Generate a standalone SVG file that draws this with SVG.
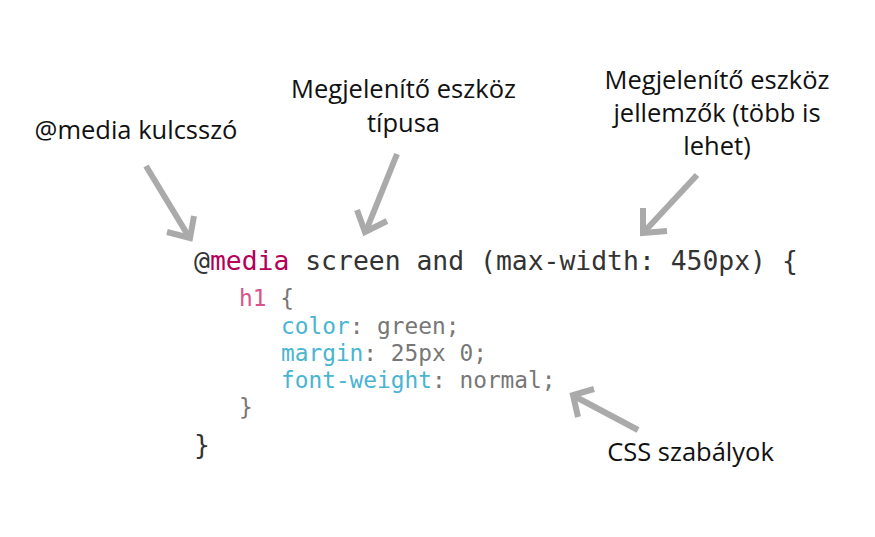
<svg xmlns="http://www.w3.org/2000/svg" width="875" height="537" viewBox="0 0 875 537">
<style>
.lbl{font-family:"Open Sans","Noto Sans",sans-serif;font-size:25.5px;fill:#111;text-anchor:middle}
.code{font-family:"DejaVu Sans Mono","Liberation Mono",monospace}
.arr{fill:none;stroke:#aaa;stroke-width:6}
</style>
<rect width="875" height="537" fill="#fff"/>
<g id="connectors">
<line class="arr" x1="146" y1="166" x2="189" y2="237"/><polyline class="arr" points="167,232 190,238 194,216"/>
<line class="arr" x1="397" y1="154" x2="366" y2="231"/><polyline class="arr" points="357,210 365,232 387,221"/>
<line class="arr" x1="697" y1="175" x2="644" y2="232"/><polyline class="arr" points="643,208 643,233 667,231"/>
<line class="arr" x1="638" y1="430" x2="574" y2="396"/><polyline class="arr" points="578,417 573,395 594,389"/>
</g>
<g id="label-keyword"><text class="lbl" x="136" y="139">@media kulcsszó</text></g>
<g id="label-type"><text class="lbl" x="403.5" y="98">Megjelenítő eszköz</text><text class="lbl" x="403.5" y="132">típusa</text></g>
<g id="label-features"><text class="lbl" x="717" y="89">Megjelenítő eszköz</text><text class="lbl" x="717" y="122">jellemzők (több is</text><text class="lbl" x="717" y="155">lehet)</text></g>
<g id="label-rules"><text class="lbl" x="690.5" y="461">CSS szabályok</text></g>
<g id="code" class="code">
<text x="194" y="270" font-size="26.4" fill="#333"><tspan>@</tspan><tspan fill="#b5005a">media</tspan><tspan> screen and (max-width: 450px) {</tspan></text>
<g font-size="22.8" fill="#777">
<text x="239" y="306"><tspan fill="#d6548a">h1</tspan> {</text>
<text x="281" y="334"><tspan fill="#4ab4d3">color</tspan>: green;</text>
<text x="281" y="361"><tspan fill="#4ab4d3">margin</tspan>: 25px 0;</text>
<text x="281" y="388"><tspan fill="#4ab4d3">font-weight</tspan>: normal;</text>
<text x="239" y="415">}</text>
</g>
<text x="194" y="454" font-size="26.4" fill="#333">}</text>
</g>
</svg>
